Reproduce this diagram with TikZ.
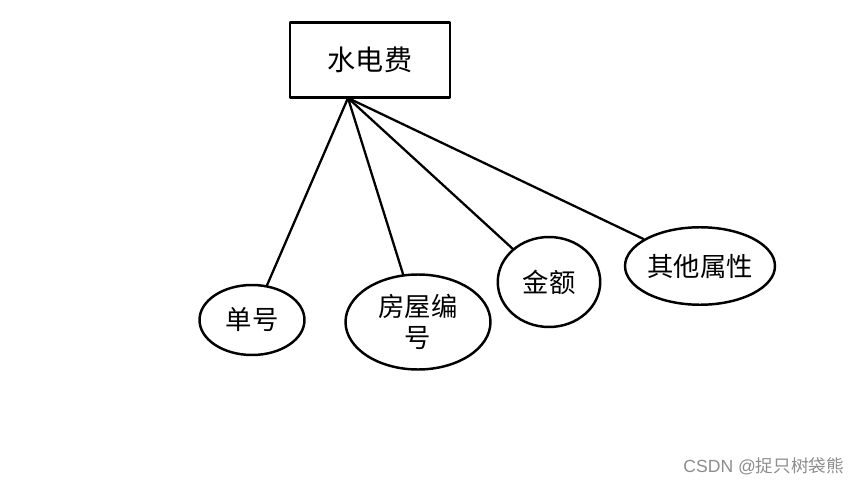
\documentclass[tikz,border=0pt]{standalone}
\usepackage{fontspec}
\newfontfamily\cjk{Noto Sans CJK SC}
\usetikzlibrary{shapes.geometric}

\begin{document}
\begin{tikzpicture}[
  x=0.02cm,
  y=-0.02cm,
  line cap=round,
  line join=round,
  entity/.style={draw, line width=1.4pt, minimum width=3.2cm, minimum height=1.5cm, font=\cjk\fontsize{16}{19}\selectfont},
  attr/.style={draw, ellipse, line width=1.4pt, inner sep=0pt, font=\cjk\fontsize{15}{18}\selectfont, align=center}
]
  \useasboundingbox (0,0) rectangle (865,486);

  % Сущность
  \node[entity] (fee) at (370,60) {水电费};
  \coordinate (F) at (348,98);

  % Атрибуты
  \node[attr, minimum width=2.1cm, minimum height=1.4cm] (num) at (252,320) {单号};
  \node[attr, minimum width=2.9cm, minimum height=1.9cm] (room) at (418,322) {房屋编\\号};
  \node[attr, minimum width=2.05cm, minimum height=1.8cm] (amount) at (549,282) {金额};
  \node[attr, minimum width=3.0cm, minimum height=1.55cm] (other) at (700,266) {其他属性};

  % Связи
  \draw[line width=1.3pt] (F)--(num);
  \draw[line width=1.3pt] (F)--(room);
  \draw[line width=1.3pt] (F)--(amount);
  \draw[line width=1.3pt] (F)--(other);

  \node[anchor=east, text=black!45, font=\fontspec{Liberation Sans}\fontsize{10}{12}\selectfont] (mark) at (850,466) {CSDN @{\cjk 捉只树袋熊}};
\end{tikzpicture}
\end{document}
